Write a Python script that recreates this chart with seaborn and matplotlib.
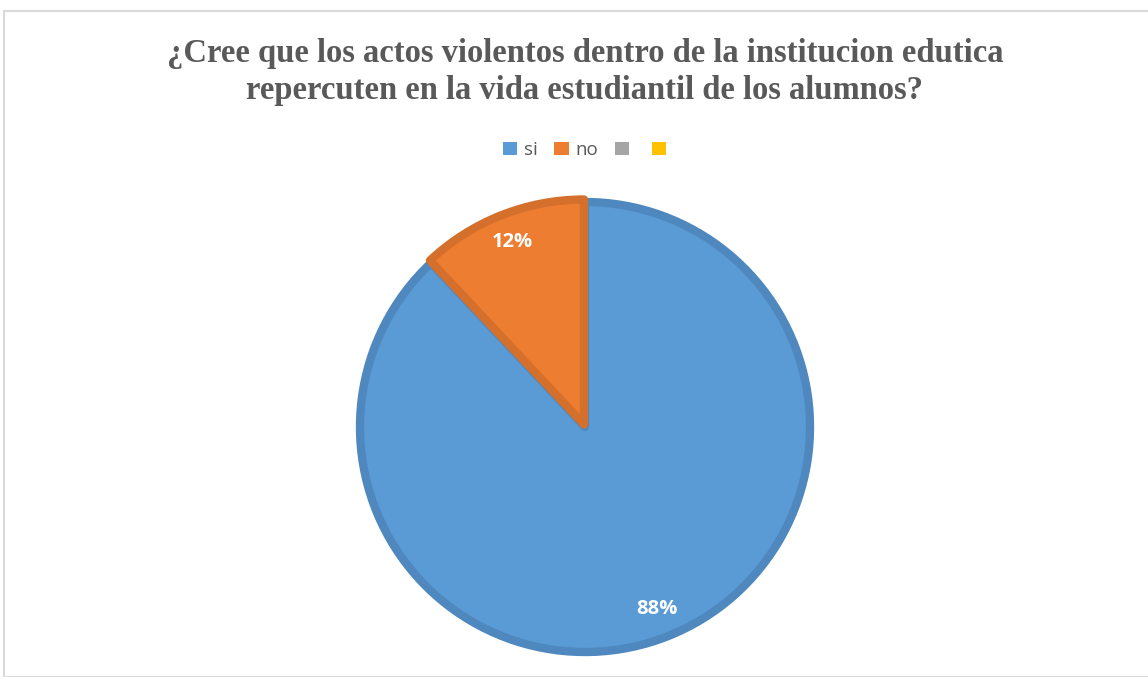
import matplotlib
matplotlib.use("Agg")
import matplotlib.pyplot as plt
from matplotlib.patches import Rectangle, Patch
import seaborn as sns

# datos
categorias = ["si", "no", "", ""]
valores = [88, 12]
colores = ["#5B9BD5", "#ED7D31", "#A5A5A5", "#FFC000"]
bordes = ["#4F88BF", "#D4702C"]

sns.set_theme(style="white")
plt.rcParams["font.family"] = ["Open Sans", "DejaVu Sans"]

fig = plt.figure(figsize=(11.48, 6.77), dpi=100)

# marco del area del grafico
fig.patches.append(Rectangle((4 / 1148, 0), 1.2, (677 - 11) / 677, transform=fig.transFigure,
                             fill=False, edgecolor="#D9D9D9", linewidth=1.5))

fig.text(585 / 1148, 1 - 72 / 677,
         "¿Cree que los actos violentos dentro de la institucion edutica\n"
         "repercuten en la vida estudiantil de los alumnos?",
         ha="center", va="center", fontsize=23.5, fontweight="bold",
         family="Liberation Serif", color="#595959", linespacing=1.28)

cx, cy, r = 585, 427, 225
ax = fig.add_axes([(cx - r) / 1148, (677 - cy - r) / 677, 2 * r / 1148, 2 * r / 677])
wedges, textos, pcts = ax.pie(valores, colors=colores[:2], startangle=90, counterclock=False,
                              explode=[0, 0.012], autopct="%1.0f%%", pctdistance=0.87,
                              wedgeprops=dict(linewidth=6, joinstyle="round"),
                              textprops=dict(color="white", fontsize=14.5, fontweight="bold"))
for w, b in zip(wedges, bordes):
    w.set_edgecolor(b)
    w.set_clip_on(False)
ax.set_xlim(-1, 1)
ax.set_ylim(-1, 1)
ax.set_aspect("auto")
ax.axis("off")

handles = [Patch(facecolor=c, edgecolor="none") for c in colores]
fig.legend(handles, categorias, loc="center", bbox_to_anchor=(588 / 1148, 1 - 150 / 677),
           ncol=4, frameon=False, fontsize=13.5, handlelength=0.75, handleheight=0.75,
           handletextpad=0.35, columnspacing=0.9, labelcolor="#595959")

fig.savefig("out.png", dpi=100)
